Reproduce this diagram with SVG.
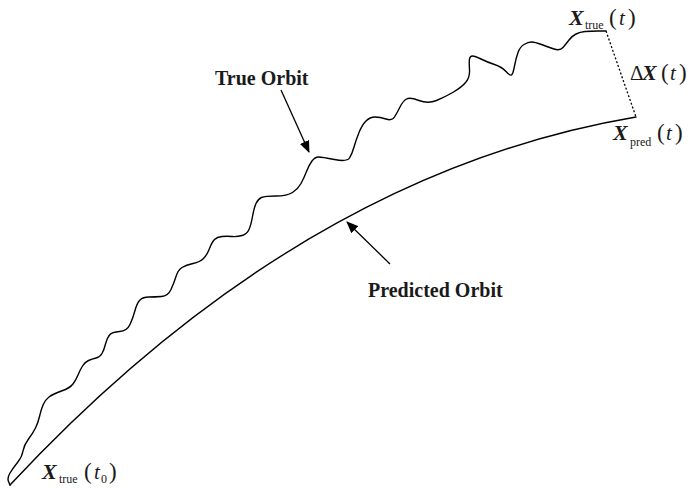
<svg xmlns="http://www.w3.org/2000/svg" width="688" height="488" viewBox="0 0 688 488">
<style>
.curve{fill:none;stroke:#000;stroke-width:1.4;stroke-linecap:round;stroke-linejoin:round}
.arrow{fill:none;stroke:#000;stroke-width:1.3}
.dot{fill:none;stroke:#000;stroke-width:1.3;stroke-dasharray:2,2}
.lbl{font-family:"Liberation Serif","Times New Roman",serif;font-weight:bold;font-size:20px;fill:#1a1a1a}
.mx{font-family:"Liberation Serif","Times New Roman",serif;font-weight:bold;font-style:italic;font-size:22px;fill:#1a1a1a}
.sub{font-family:"Liberation Serif","Times New Roman",serif;font-size:12px;fill:#1a1a1a}
.par{font-family:"Liberation Serif","Times New Roman",serif;font-size:23px;fill:#1a1a1a}
.it{font-family:"Liberation Serif","Times New Roman",serif;font-style:italic;font-size:21px;fill:#1a1a1a}
.up{font-family:"Liberation Serif","Times New Roman",serif;font-size:21px;fill:#1a1a1a}
</style>
<defs>
<marker id="ah" viewBox="0 0 12 10" refX="11" refY="5" markerWidth="12" markerHeight="10" markerUnits="userSpaceOnUse" orient="auto">
<path d="M0,0 L12,5 L0,10 Z" fill="#000"/>
</marker>
</defs>
<g id="connectors">
<path id="true-orbit" class="curve" d="M10,485 L8.5,481.5 Q7,478 10,473 Q13,468 17.5,462.5 Q22,457 23,451 Q24,445 28.5,439 Q33,433 35.5,428 Q38,423 39.5,416.5 Q41,410 43,405 Q45,400 49,397 Q53,394 61.5,391 Q70,388 73,384 Q76,380 78,375 Q80,370 82.5,366 Q85,362 88.5,360.5 Q92,359 96,358 Q100,357 102,353.5 Q104,350 105.5,344 Q107,338 109.5,335 Q112,332 119.5,331.5 Q127,331 130,324.5 Q133,318 135,310.5 Q137,303 140,300 Q143,297 149,297 Q155,297 161.5,296.5 Q168,296 171,289.5 Q174,283 176,276.5 Q178,270 182,267.5 Q186,265 193,263.5 Q200,262 203.5,258.5 Q207,255 209.5,248.5 Q212,242 214.5,239.5 Q217,237 222,236.5 Q227,236 232,236.5 Q237,237 242,235.5 Q247,234 249,229.5 Q251,225 252.5,216.5 Q254,208 256,203.5 Q258,199 261.5,197.5 Q265,196 276,196 Q287,196 292.5,192.5 Q298,189 301,183.5 Q304,178 306.5,171.5 Q309,165 312,161 Q315,157 318.5,157 Q322,157 334.5,159.5 Q347,162 349.5,158 Q352,154 354,147 Q356,140 359,132.5 Q362,125 366,121 Q370,117 375,117 Q380,117 386,119 Q392,121 394.5,117 Q397,113 400,107 Q403,101 406.5,99 Q410,97 419,100.5 Q428,104 436.5,100.5 Q445,97 453.5,92 Q462,87 466,82 Q470,77 469.5,69.5 Q469,62 469.5,59 Q470,56 472.5,56 Q475,56 481,59 Q487,62 494.5,64.5 Q502,67 506,71.5 Q510,76 511.5,75 Q513,74 514.5,66 Q516,58 518,52.5 Q520,47 524,44.5 Q528,42 531.5,42 Q535,42 541.5,44.5 Q548,47 554,49 Q560,51 563,47.5 Q566,44 569,40 Q572,36 576,34 Q580,32 585,31.5 Q590,31 598,31 L606,31"/>
<path id="predicted-orbit" class="curve" d="M10,485 Q300,174 636,117"/>
<path id="delta" class="dot" d="M606,31 L636,117"/>
<path id="arrow-true" class="arrow" d="M281,90 L309,152" marker-end="url(#ah)"/>
<path id="arrow-pred" class="arrow" d="M390,264 L347,222" marker-end="url(#ah)"/>
</g>
<g id="label-true-orbit"><text class="lbl" x="215" y="85">True Orbit</text></g>
<g id="label-predicted-orbit"><text class="lbl" x="368" y="297">Predicted Orbit</text></g>
<g id="label-xtrue-t">
<text class="mx" x="569" y="25">X</text>
<text class="sub" x="585" y="29">true</text>
<text class="par" x="609" y="25">(</text>
<text class="it" x="619" y="25">t</text>
<text class="par" x="628" y="25">)</text>
</g>
<g id="label-delta">
<text class="up" x="630" y="80">Δ</text>
<text class="mx" x="642" y="80">X</text>
<text class="par" x="661" y="80">(</text>
<text class="it" x="670" y="80">t</text>
<text class="par" x="679" y="80">)</text>
</g>
<g id="label-xpred-t">
<text class="mx" x="613" y="140">X</text>
<text class="sub" x="630" y="146">pred</text>
<text class="par" x="657" y="140">(</text>
<text class="it" x="666" y="140">t</text>
<text class="par" x="675" y="140">)</text>
</g>
<g id="label-xtrue-t0">
<text class="mx" x="42" y="479">X</text>
<text class="sub" x="59" y="483">true</text>
<text class="par" x="84" y="479">(</text>
<text class="it" x="94" y="479">t</text>
<text class="sub" x="101" y="483">0</text>
<text class="par" x="109" y="479">)</text>
</g>
</svg>
